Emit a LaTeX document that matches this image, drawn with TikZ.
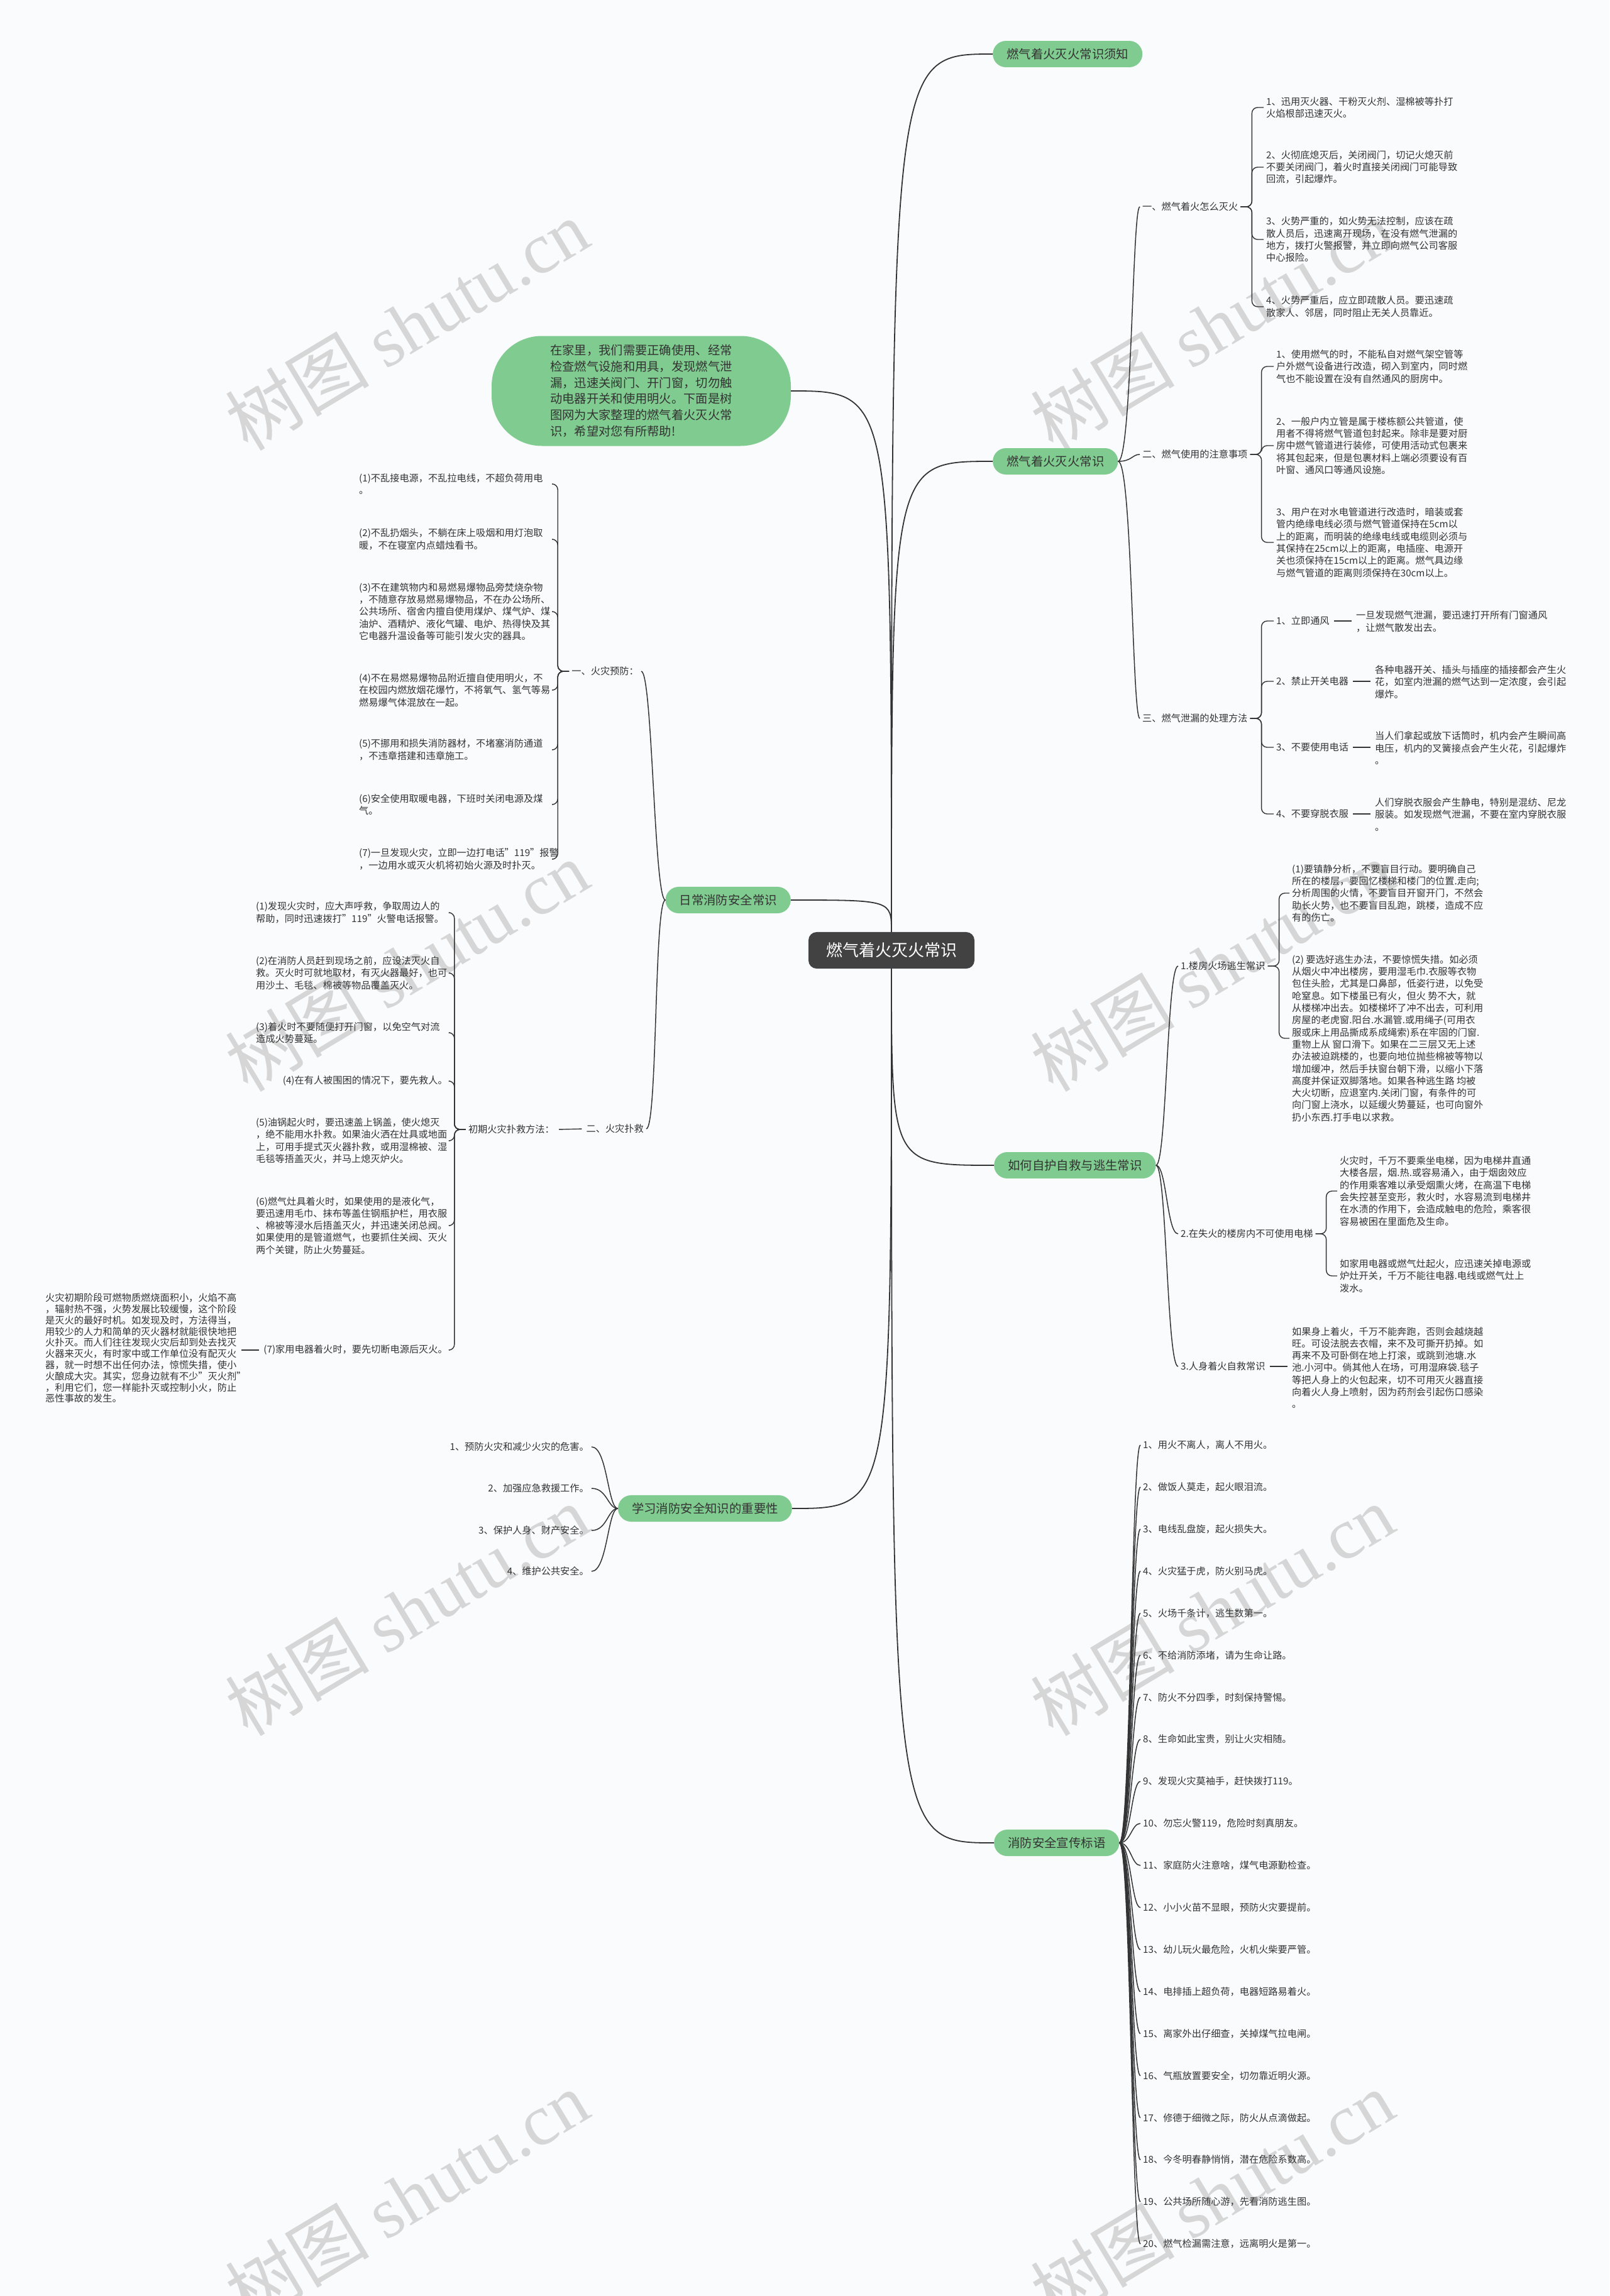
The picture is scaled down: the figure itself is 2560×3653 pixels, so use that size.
\documentclass[tikz,border=0pt]{standalone}
\usepackage{fontspec}
\setmainfont{Noto Sans CJK SC}
\newfontfamily\wmfont{Liberation Serif}
\usepackage{tikz}
\usetikzlibrary{positioning,calc}

\definecolor{paperbg}{RGB}{249,251,253}
\definecolor{topicgreen}{RGB}{128,203,143}
\definecolor{ink}{RGB}{51,51,51}
\definecolor{rootfill}{RGB}{66,66,66}
\definecolor{wmgray}{RGB}{214,214,214}

\begin{document}
\begin{tikzpicture}[x=1pt,y=-1pt,
    root/.style={fill=rootfill,text=white,rounded corners=13pt,
      inner xsep=28pt,inner ysep=17pt,font=\fontsize{26}{30}\selectfont},
    topic/.style={fill=topicgreen,text=ink,rounded corners=21pt,
      inner xsep=22pt,inner ysep=12pt,font=\fontsize{19.4}{23}\selectfont},
    note/.style={text=ink,inner xsep=4pt,inner ysep=2pt,align=left,
      font=\fontsize{15.2}{19.3}\selectfont},
    para/.style={note,text width=305pt},
    trunk/.style={draw=ink,line width=1.8pt},
    twig/.style={draw=ink,line width=1.4pt,rounded corners=9pt},
    stub/.style={draw=ink,line width=1.4pt,shorten <=3pt,shorten >=3pt},
    wmark/.style={text=wmgray,rotate=31,inner sep=0pt}
  ]
  \fill[paperbg] (0,0) rectangle (2560,3653);
  \useasboundingbox (0,0) rectangle (2560,3653);

  % watermarks
  \foreach \wx/\wy [count=\w] in {647/517,1928/517,647/1537,1928/1537,
      647/2562,1928/2562,647/3494,1928/3494}
    \node[wmark] (wm\w) at (\wx,\wy)
      {\fontsize{115}{115}\selectfont 树图\ {\wmfont shutu.cn}};

  % centre and main topics
  \node[root] (ctr) at (1418,1512) {燃气着火灭火常识};
  \node[topic,anchor=west] (kb1) at (1579,86) {燃气着火灭火常识须知};
  \node[topic,anchor=west] (kb2) at (1579,734) {燃气着火灭火常识};
  \node[topic,anchor=west] (kb3) at (1581,1854) {如何自护自救与逃生常识};
  \node[topic,anchor=west] (kb4) at (1581,2932) {消防安全宣传标语};
  \node[topic,anchor=east] (daily) at (1258,1432) {日常消防安全常识};
  \node[topic,anchor=east] (learn) at (1260,2400) {学习消防安全知识的重要性};
  \node[topic,rounded corners=80pt,minimum width=476pt,minimum height=175pt,
    align=left,font=\fontsize{19.3}{25.7}\selectfont] (intro) at (1020,622)
    {在家里，我们需要正确使用、经常\\检查燃气设施和用具，发现燃气泄\\漏，迅速关阀门、开门窗，切勿触\\动电器开关和使用明火。下面是树\\图网为大家整理的燃气着火灭火常\\识，希望对您有所帮助!};

  \draw[trunk] (ctr.north) .. controls (ctr.north |- kb1.west) .. (kb1.west);
  \draw[trunk] (ctr.north) .. controls (ctr.north |- kb2.west) .. (kb2.west);
  \draw[trunk] (ctr.south) .. controls (ctr.south |- kb3.west) .. (kb3.west);
  \draw[trunk] (ctr.south) .. controls (ctr.south |- kb4.west) .. (kb4.west);
  \draw[trunk] (ctr.north) .. controls (ctr.north |- daily.east) .. (daily.east);
  \draw[trunk] (ctr.south) .. controls (ctr.south |- learn.east) .. (learn.east);
  \draw[trunk] (ctr.north) .. controls (ctr.north |- intro.east) .. (intro.east);

  % ---- 燃气着火灭火常识
  \node[note,anchor=west] (fire) at (1813,329) {一、燃气着火怎么灭火};
  \node[note,anchor=west] (use) at (1813,723) {二、燃气使用的注意事项};
  \node[note,anchor=west] (leak) at (1813,1143) {三、燃气泄漏的处理方法};
  \foreach \c in {fire,use,leak}
    \draw[trunk,line width=1.5pt] (kb2.east) .. controls +(22,0) and +(-12,0) .. (\c.west);

  \node[note,anchor=west] (f1) at (2010,171) {1、迅用灭火器、干粉灭火剂、湿棉被等扑打\\火焰根部迅速灭火。};
  \node[note,anchor=west] (f2) at (2010,266) {2、火彻底熄灭后，关闭阀门，切记火熄灭前\\不要关闭阀门，着火时直接关闭阀门可能导致\\回流，引起爆炸。};
  \node[note,anchor=west] (f3) at (2010,381) {3、火势严重的，如火势无法控制，应该在疏\\散人员后，迅速离开现场，在没有燃气泄漏的\\地方，拨打火警报警，并立即向燃气公司客服\\中心报险。};
  \node[note,anchor=west] (f4) at (2010,488) {4、火势严重后，应立即疏散人员。要迅速疏\\散家人、邻居，同时阻止无关人员靠近。};
  \foreach \c in {f1,f2,f3,f4}
    \draw[twig] (fire.east) -- ++(18,0) |- (\c.west);

  \node[note,anchor=west] (u1) at (2026,583) {1、使用燃气的时，不能私自对燃气架空管等\\户外燃气设备进行改造，砌入到室内，同时燃\\气也不能设置在没有自然通风的厨房中。};
  \node[note,anchor=west] (u2) at (2026,709) {2、一般户内立管是属于楼栋额公共管道，使\\用者不得将燃气管道包封起来。除非是要对厨\\房中燃气管道进行装修，可使用活动式包裹来\\将其包起来，但是包裹材料上端必须要设有百\\叶窗、通风口等通风设施。};
  \node[note,anchor=west] (u3) at (2026,863) {3、用户在对水电管道进行改造时，暗装或套\\管内绝缘电线必须与燃气管道保持在5cm以\\上的距离，而明装的绝缘电线或电缆则必须与\\其保持在25cm以上的距离，电插座、电源开\\关也须保持在15cm以上的距离。燃气具边缘\\与燃气管道的距离则须保持在30cm以上。};
  \foreach \c in {u1,u2,u3}
    \draw[twig] (use.east) -- ++(18,0) |- (\c.west);

  \node[note,anchor=west] (l1) at (2026,988) {1、立即通风};
  \node[note,anchor=west] (l2) at (2026,1084) {2、禁止开关电器};
  \node[note,anchor=west] (l3) at (2026,1189) {3、不要使用电话};
  \node[note,anchor=west] (l4) at (2026,1295) {4、不要穿脱衣服};
  \foreach \c in {l1,l2,l3,l4}
    \draw[twig] (leak.east) -- ++(18,0) |- (\c.west);
  \node[note,anchor=west] (ld1) at (2153,989) {一旦发现燃气泄漏，要迅速打开所有门窗通风\\，让燃气散发出去。};
  \node[note,anchor=west] (ld2) at (2183,1085) {各种电器开关、插头与插座的插接都会产生火\\花，如室内泄漏的燃气达到一定浓度，会引起\\爆炸。};
  \node[note,anchor=west] (ld3) at (2183,1190) {当人们拿起或放下话筒时，机内会产生瞬间高\\电压，机内的叉簧接点会产生火花，引起爆炸\\。};
  \node[note,anchor=west] (ld4) at (2183,1296) {人们穿脱衣服会产生静电，特别是混纺、尼龙\\服装。如发现燃气泄漏，不要在室内穿脱衣服\\。};
  \foreach \i in {1,2,3,4}
    \draw[stub] (l\i.east) -- (l\i.east -| ld\i.west);

  % ---- 如何自护自救与逃生常识
  \node[note,anchor=west] (e1) at (1874,1537) {1.楼房火场逃生常识};
  \node[note,anchor=west] (e2) at (1874,1963) {2.在失火的楼房内不可使用电梯};
  \node[note,anchor=west] (e3) at (1874,2174) {3.人身着火自救常识};
  \foreach \c in {e1,e2,e3}
    \draw[trunk,line width=1.5pt] (kb3.east) .. controls +(17,0) and +(-18,0) .. (\c.west);

  \node[note,anchor=west] (e1a) at (2051,1421) {(1)要镇静分析，不要盲目行动。要明确自己\\所在的楼层，要回忆楼梯和楼门的位置.走向;\\分析周围的火情，不要盲目开窗开门，不然会\\助长火势，也不要盲目乱跑，跳楼，造成不应\\有的伤亡。};
  \node[note,anchor=west] (e1b) at (2051,1652) {(2) 要选好逃生办法，不要惊慌失措。如必须\\从烟火中冲出楼房，要用湿毛巾.衣服等衣物\\包住头脸，尤其是口鼻部，低姿行进，以免受\\呛窒息。如下楼虽已有火，但火 势不大，就\\从楼梯冲出去。如楼梯坏了冲不出去，可利用\\房屋的老虎窗.阳台.水漏管.或用绳子(可用衣\\服或床上用品撕成系成绳索)系在牢固的门窗.\\重物上从 窗口滑下。如果在二三层又无上述\\办法被迫跳楼的，也要向地位抛些棉被等物以\\增加缓冲，然后手扶窗台朝下滑，以缩小下落\\高度并保证双脚落地。如果各种逃生路 均被\\大火切断，应退室内.关闭门窗，有条件的可\\向门窗上浇水，以延缓火势蔓延，也可向窗外\\扔小东西.打手电以求救。};
  \foreach \c in {e1a,e1b}
    \draw[twig] (e1.east) -- ++(18,0) |- (\c.west);

  \node[note,anchor=west] (e2a) at (2127,1895) {火灾时，千万不要乘坐电梯，因为电梯井直通\\大楼各层，烟.热.或容易涌入，由于烟囱效应\\的作用乘客难以承受烟熏火烤，在高温下电梯\\会失控甚至变形，救火时，水容易流到电梯井\\在水渍的作用下，会造成触电的危险，乘客很\\容易被困在里面危及生命。};
  \node[note,anchor=west] (e2b) at (2127,2030) {如家用电器或燃气灶起火，应迅速关掉电源或\\炉灶开关，千万不能往电器.电线或燃气灶上\\泼水。};
  \foreach \c in {e2a,e2b}
    \draw[twig] (e2.east) -- ++(17,0) |- (\c.west);

  \node[note,anchor=west] (e3a) at (2051,2176) {如果身上着火，千万不能奔跑，否则会越烧越\\旺。可设法脱去衣帽，来不及可撕开扔掉。如\\再来不及可卧倒在地上打滚，或跳到池塘.水\\池.小河中。倘其他人在场，可用湿麻袋.毯子\\等把人身上的火包起来，切不可用灭火器直接\\向着火人身上喷射，因为药剂会引起伤口感染\\。};
  \draw[stub] (e3.east) -- (e3.east -| e3a.west);

  % ---- 消防安全宣传标语
  \foreach \txt [count=\i] in {{1、用火不离人，离人不用火。},{2、做饭人莫走，起火眼泪流。},
      {3、电线乱盘旋，起火损失大。},{4、火灾猛于虎，防火别马虎。},
      {5、火场千条计，逃生数第一。},{6、不给消防添堵，请为生命让路。},
      {7、防火不分四季，时刻保持警惕。},{8、生命如此宝贵，别让火灾相随。},
      {9、发现火灾莫袖手，赶快拨打119。},{10、勿忘火警119，危险时刻真朋友。},
      {11、家庭防火注意啥，煤气电源勤检查。},{12、小小火苗不显眼，预防火灾要提前。},
      {13、幼儿玩火最危险，火机火柴要严管。},{14、电排插上超负荷，电器短路易着火。},
      {15、离家外出仔细查，关掉煤气拉电闸。},{16、气瓶放置要安全，切勿靠近明火源。},
      {17、修德于细微之际，防火从点滴做起。},{18、今冬明春静悄悄，潜在危险系数高。},
      {19、公共场所随心游，先看消防逃生图。},{20、燃气检漏需注意，远离明火是第一。}}
  {
    \node[note,anchor=west] (s\i) at (1814,{2299+(\i-1)*66.9}) {\txt};
    \draw[trunk,line width=1.5pt] (kb4.east) .. controls +(18,0) and +(-14,0) .. (s\i.west);
  }

  % ---- 日常消防安全常识
  \node[note,anchor=east] (prev) at (1020,1068) {一、火灾预防：};
  \node[note,anchor=east] (fight) at (1028,1796) {二、火灾扑救};
  \foreach \c in {prev,fight}
    \draw[trunk,line width=1.5pt] (daily.west) .. controls +(-18,0) and +(18,0) .. (\c.east);

  \node[para,anchor=west] (p1) at (567,770) {(1)不乱接电源，不乱拉电线，不超负荷用电\\。};
  \node[para,anchor=west] (p2) at (567,858) {(2)不乱扔烟头，不躺在床上吸烟和用灯泡取\\暖，不在寝室内点蜡烛看书。};
  \node[para,anchor=west] (p3) at (567,973) {(3)不在建筑物内和易燃易爆物品旁焚烧杂物\\，不随意存放易燃易爆物品，不在办公场所、\\公共场所、宿舍内擅自使用煤炉、煤气炉、煤\\油炉、酒精炉、液化气罐、电炉、热得快及其\\它电器升温设备等可能引发火灾的器具。};
  \node[para,anchor=west] (p4) at (567,1098) {(4)不在易燃易爆物品附近擅自使用明火，不\\在校园内燃放烟花爆竹，不将氧气、氢气等易\\燃易爆气体混放在一起。};
  \node[para,anchor=west] (p5) at (567,1193) {(5)不挪用和损失消防器材，不堵塞消防通道\\，不违章搭建和违章施工。};
  \node[para,anchor=west] (p6) at (567,1280) {(6)安全使用取暖电器，下班时关闭电源及煤\\气。};
  \node[para,anchor=west] (p7) at (567,1367) {(7)一旦发现火灾，立即一边打电话"119"报警\\，一边用水或灭火机将初始火源及时扑灭。};
  \foreach \c in {p1,p2,p3,p4,p5,p6,p7}
    \draw[twig] (prev.west) -- ++(-18,0) |- (\c.east);

  \node[note,anchor=east] (method) at (886,1797) {初期火灾扑救方法：};
  \draw[stub] (fight.west) -- (method.east);

  \node[para,anchor=west] (k1) at (403,1452) {(1)发现火灾时，应大声呼救，争取周边人的\\帮助，同时迅速拨打"119"火警电话报警。};
  \node[para,anchor=west] (k2) at (403,1548) {(2)在消防人员赶到现场之前，应设法灭火自\\救。灭火时可就地取材，有灭火器最好，也可\\用沙土、毛毯、棉被等物品覆盖灭火。};
  \node[para,anchor=west] (k3) at (403,1643) {(3)着火时不要随便打开门窗，以免空气对流\\造成火势蔓延。};
  \node[note,anchor=east] (k4) at (716,1720) {(4)在有人被围困的情况下，要先救人。};
  \node[para,anchor=west] (k5) at (403,1815) {(5)油锅起火时，要迅速盖上锅盖，使火熄灭\\，绝不能用水扑救。如果油火洒在灶具或地面\\上，可用手提式灭火器扑救，或用湿棉被、湿\\毛毯等捂盖灭火，并马上熄灭炉火。};
  \node[para,anchor=west] (k6) at (403,1950) {(6)燃气灶具着火时，如果使用的是液化气，\\要迅速用毛巾、抹布等盖住钢瓶护栏，用衣服\\、棉被等浸水后捂盖灭火，并迅速关闭总阀。\\如果使用的是管道燃气，也要抓住关阀、灭火\\两个关键，防止火势蔓延。};
  \node[note,anchor=east] (k7) at (716,2148) {(7)家用电器着火时，要先切断电源后灭火。};
  \foreach \c in {k1,k2,k3,k4,k5,k6,k7}
    \draw[twig] (method.west) -- ++(-18,0) |- (\c.east);

  \node[para,anchor=west,font=\fontsize{15.2}{17.8}\selectfont] (k7a) at (68,2145) {火灾初期阶段可燃物质燃烧面积小，火焰不高\\，辐射热不强，火势发展比较缓慢，这个阶段\\是灭火的最好时机。如发现及时，方法得当，\\用较少的人力和简单的灭火器材就能很快地把\\火扑灭。而人们往往发现火灾后却到处去找灭\\火器来灭火，有时家中或工作单位没有配灭火\\器，就一时想不出任何办法，惊慌失措，使小\\火酿成大灾。其实，您身边就有不少"灭火剂"\\，利用它们，您一样能扑灭或控制小火，防止\\恶性事故的发生。};
  \draw[stub] (k7.west) -- (k7.west -| k7a.east);

  % ---- 学习消防安全知识的重要性
  \node[note,anchor=east] (r1) at (941,2302) {1、预防火灾和减少火灾的危害。};
  \node[note,anchor=east] (r2) at (941,2368) {2、加强应急救援工作。};
  \node[note,anchor=east] (r3) at (941,2435) {3、保护人身、财产安全。};
  \node[note,anchor=east] (r4) at (941,2500) {4、维护公共安全。};
  \foreach \c in {r1,r2,r3,r4}
    \draw[trunk,line width=1.5pt] (learn.west) .. controls +(-16,0) and +(25,0) .. (\c.east);
\end{tikzpicture}
\end{document}
